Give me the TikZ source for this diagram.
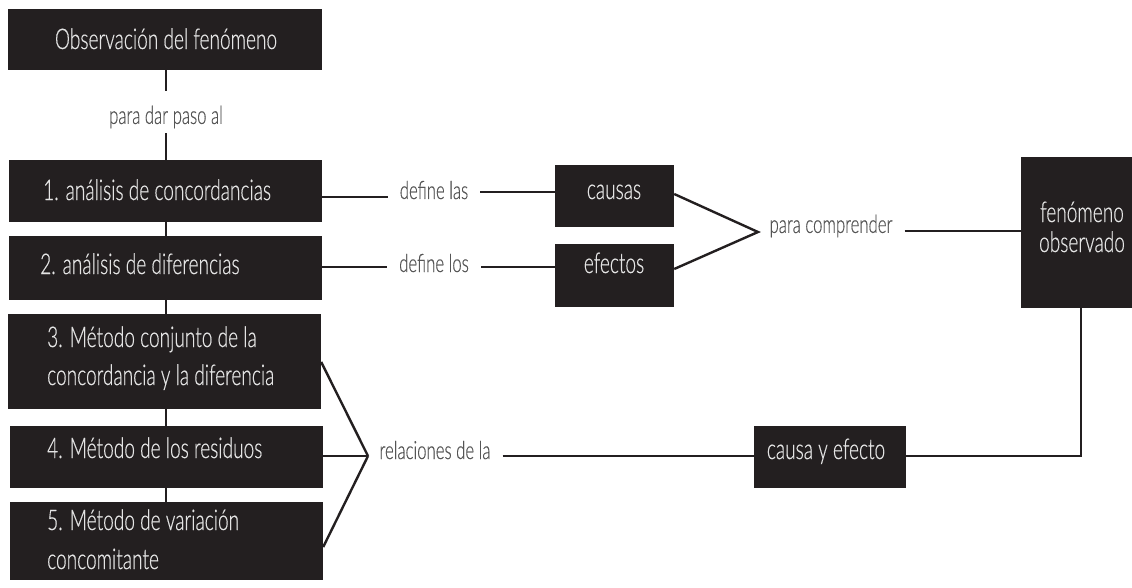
\documentclass[tikz,border=0pt]{standalone}
\usepackage{fontspec}
\setmainfont{Lato Light}[FakeStretch=0.67,FakeBold=0.4]
\definecolor{boxc}{HTML}{231F20}
\definecolor{btc}{HTML}{E4E4E4}
\definecolor{labc}{HTML}{555555}
\begin{document}
\begin{tikzpicture}[x=1pt,y=-1pt,
  box/.style={fill=boxc,draw=none,inner sep=0pt},
  btext/.style={text=btc,inner sep=0pt,font=\fontsize{28.5}{32}\selectfont},
  lab/.style={text=labc,inner xsep=12pt,inner ysep=0pt,font=\fontsize{25}{28}\selectfont},
  conn/.style={draw=boxc,line width=2.4pt}]
\useasboundingbox (0,0) rectangle (1132,587);
% left column boxes
\node[box,minimum width=314,minimum height=61] (b0) at (165,39.5) {};
\node[btext,anchor=base] (t0) at (166,49) {Observación del fenómeno};
\node[box,minimum width=313,minimum height=62] (b1) at (165.5,191) {};
\node[btext,anchor=base west] (t1) at (43,200) {1. análisis de concordancias};
\node[box,minimum width=313,minimum height=64] (b2) at (165.5,268) {};
\node[btext,anchor=base west] (t2) at (40,274) {2. análisis de diferencias};
\node[box,minimum width=313,minimum height=95] (b3) at (164.5,361.5) {};
\node[btext,anchor=base west] (t3a) at (47,347) {3. Método conjunto de la};
\node[btext,anchor=base west] (t3b) at (47,385) {concordancia y la diferencia};
\node[box,minimum width=313,minimum height=62] (b4) at (166.5,457) {};
\node[btext,anchor=base west] (t4) at (47,458) {4. Método de los residuos};
\node[box,minimum width=313,minimum height=78] (b5) at (166.5,541) {};
\node[btext,anchor=base west] (t5a) at (47,530) {5. Método de variación};
\node[btext,anchor=base west] (t5b) at (47,569) {concomitante};
% middle and right boxes
\node[box,minimum width=119,minimum height=62] (c) at (614.5,196) {};
\node[btext,anchor=base] (tc) at (614,199) {causas};
\node[box,minimum width=119,minimum height=63] (e) at (614.5,275.5) {};
\node[btext,anchor=base] (te) at (614,273) {efectos};
\node[box,minimum width=152,minimum height=62] (ce) at (830,457) {};
\node[btext,anchor=base] (tce) at (826,459) {causa y efecto};
\node[box,minimum width=111,minimum height=151] (f) at (1076.5,232.5) {};
\node[btext,anchor=base] (tf1) at (1082,222) {fenómeno};
\node[btext,anchor=base] (tf2) at (1082,252) {observado};
% labels
\node[lab] (pd) at (166,117) {para dar paso al};
\node[lab] (l1) at (434,190) {define las};
\node[lab] (l2) at (434,263) {define los};
\node[lab] (pc) at (831,226) {para comprender};
\node[lab] (rl) at (435,450) {relaciones de la};
\coordinate (pdTop) at (166,91);
\coordinate (pdBot) at (166,133);
\coordinate (jr) at (758,232);
\coordinate (jl) at (368,456);
% connectors
\draw[conn] (b0.south -| pdTop) -- (pdTop);
\draw[conn] (pdBot) -- (pdBot |- b1.north);
\draw[conn] (b1.south -| pdTop) -- (pdTop |- b2.north);
\draw[conn] (b2.south -| pdTop) -- (pdTop |- b3.north);
\draw[conn] (b3.south -| pdTop) -- (pdTop |- b4.north);
\draw[conn] (b4.south -| pdTop) -- (pdTop |- b5.north);
\draw[conn] ([yshift=-6pt]b1.east) -- ([yshift=-6pt]b1.east -| l1.west);
\draw[conn] (l1.east |- 0,192) -- (c.west |- 0,192);
\draw[conn] (b2.east |- 0,267) -- (l2.west |- 0,267);
\draw[conn] (l2.east |- 0,267) -- (e.west |- 0,267);
\draw[conn] ([yshift=2pt]c.east) -- (jr) -- ([yshift=6.5pt]e.east);
\draw[conn] (pc.east |- 0,231) -- (f.west |- 0,231);
\draw[conn] (f.south -| 1081,0) -- (1081,456) -- (ce.east |- 0,456);
\draw[conn] ([yshift=-0.5pt]b3.east) -- (jl);
\draw[conn] (b4.east |- jl) -- (jl);
\draw[conn] ([yshift=-6pt]b5.east) -- (jl);
\draw[conn] (rl.east |- jl) -- (ce.west |- jl);
\end{tikzpicture}
\end{document}
